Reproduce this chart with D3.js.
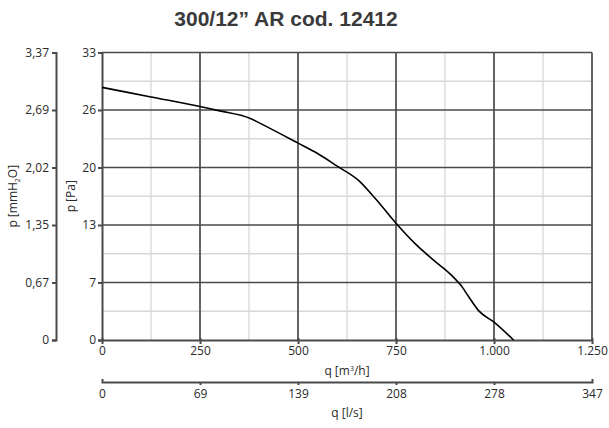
<!DOCTYPE html>
<html><head><meta charset="utf-8">
<script src="https://cdn.jsdelivr.net/npm/d3@7"></script>
<style>
html,body{margin:0;padding:0;background:#fff;}
svg{display:block;}
text{font-family:"Open Sans",sans-serif;}
</style></head>
<body><svg id="c" width="609" height="428"></svg>
<script>
// ---- data ----
const title = "300/12\u201D AR cod. 12412";
const flowM3h = [0, 125, 250, 300, 380, 400, 500, 550, 600, 655, 700, 750, 800, 845, 890, 915, 935, 960, 1000, 1050];
const pressurePa = [29.0, 27.9, 26.8, 26.3, 25.4, 24.95, 22.6, 21.4, 19.95, 18.3, 16.1, 13.4, 11.0, 9.2, 7.5, 6.3, 5.0, 3.4, 2.05, 0];
const xTicks = [0, 250, 500, 750, 1000, 1250];
const xTickLabels = ["0", "250", "500", "750", "1.000", "1.250"];
const xMinor = [125, 375, 625, 875, 1125];
const lsTickLabels = ["0", "69", "139", "208", "278", "347"];
const yTicks = [0, 6.6, 13.2, 19.8, 26.4, 33];
const yTickLabels = ["0", "7", "13", "20", "26", "33"];
const yMinor = [3.3, 9.9, 16.5, 23.1, 29.7];
const mmTickLabels = ["0", "0,67", "1,35", "2,02", "2,69", "3,37"];

// ---- drawing ----
const svg = d3.select("#c");
const x = d3.scaleLinear().domain([0, 1250]).range([102, 592]);
const y = d3.scaleLinear().domain([0, 33]).range([340, 52.5]);
const axisCol = "#4a4a4a";
const txtCol = "#2a2a2a";

svg.append("text").attr("x", 286).attr("y", 26).attr("text-anchor", "middle")
  .style("font-family", "'Liberation Sans', Arial, sans-serif").style("font-weight", "bold")
  .style("font-size", "21px").attr("fill", "#3a3a3a").text(title);

const g = svg.append("g");
// minor grid
g.selectAll(".vmin").data(xMinor).enter().append("line")
  .attr("x1", d => x(d)).attr("x2", d => x(d)).attr("y1", y(0)).attr("y2", y(33))
  .attr("stroke", "#d8d8d8").attr("stroke-width", 1.3);
g.selectAll(".hmin").data(yMinor).enter().append("line")
  .attr("y1", d => y(d)).attr("y2", d => y(d)).attr("x1", x(0)).attr("x2", x(1250))
  .attr("stroke", "#d8d8d8").attr("stroke-width", 1.3);
// major grid
g.selectAll(".vmaj").data(xTicks.slice(1)).enter().append("line")
  .attr("x1", d => x(d)).attr("x2", d => x(d)).attr("y1", y(0)).attr("y2", y(33))
  .attr("stroke", axisCol).attr("stroke-width", 1.7);
g.selectAll(".hmaj").data(yTicks.slice(1)).enter().append("line")
  .attr("y1", d => y(d)).attr("y2", d => y(d)).attr("x1", x(0)).attr("x2", x(1250))
  .attr("stroke", axisCol).attr("stroke-width", 1.7);

function styleAxis(sel) {
  sel.selectAll("path, line").attr("stroke", axisCol).attr("stroke-width", 2);
  sel.selectAll("text").attr("fill", txtCol).style("font-size", "12px").style("font-family", "'Open Sans', sans-serif");
}

// bottom axis m3/h
const xa = svg.append("g").attr("transform", `translate(0,${y(0)})`)
  .call(d3.axisBottom(x).tickValues(xTicks).tickFormat((d, i) => xTickLabels[i]).tickSize(4).tickSizeOuter(0).tickPadding(2));
styleAxis(xa);
xa.selectAll(".tick line").attr("y1", -2);

// bottom axis l/s
const xb = svg.append("g").attr("transform", "translate(0,382)")
  .call(d3.axisBottom(x).tickValues(xTicks).tickFormat((d, i) => lsTickLabels[i]).tickSize(3).tickSizeOuter(-3).tickPadding(4));
styleAxis(xb);
xb.selectAll(".tick").filter((d, i) => i === 0 || i === xTicks.length - 1).select("line").remove();

// left axis Pa
const ya = svg.append("g").attr("transform", `translate(${x(0)},0)`)
  .call(d3.axisLeft(y).tickValues(yTicks).tickFormat((d, i) => yTickLabels[i]).tickSize(4).tickSizeOuter(4).tickPadding(2));
styleAxis(ya);

// left axis mmH2O
const yb = svg.append("g").attr("transform", "translate(56,0)")
  .call(d3.axisLeft(y).tickValues(yTicks).tickFormat((d, i) => mmTickLabels[i]).tickSize(4).tickSizeOuter(4).tickPadding(3));
styleAxis(yb);

// axis titles
const lab = (sel) => sel.attr("fill", txtCol).style("font-size", "12px").attr("text-anchor", "middle");
const q1 = svg.append("text").attr("x", x(625)).attr("y", 375).call(lab);
q1.append("tspan").text("q [m");
q1.append("tspan").text("3").attr("dy", -4).style("font-size", "7px");
q1.append("tspan").text("/h]").attr("dy", 4);
svg.append("text").attr("x", x(625)).attr("y", 417).call(lab).text("q [l/s]");
svg.append("text").attr("transform", `translate(75,${y(16.5)}) rotate(-90)`).call(lab).text("p [Pa]");
const m = svg.append("text").attr("transform", `translate(17,${y(16.5)}) rotate(-90)`).call(lab);
m.append("tspan").text("p [mmH");
m.append("tspan").text("2").attr("dy", 3).style("font-size", "7px");
m.append("tspan").text("O]").attr("dy", -3);

// curve
const pts = flowM3h.map((q, i) => [q, pressurePa[i]]);
svg.append("path").datum(pts)
  .attr("d", d3.line().x(d => x(d[0])).y(d => y(d[1])).curve(d3.curveMonotoneX))
  .attr("fill", "none").attr("stroke", "#000").attr("stroke-width", 1.6);
</script></body></html>
